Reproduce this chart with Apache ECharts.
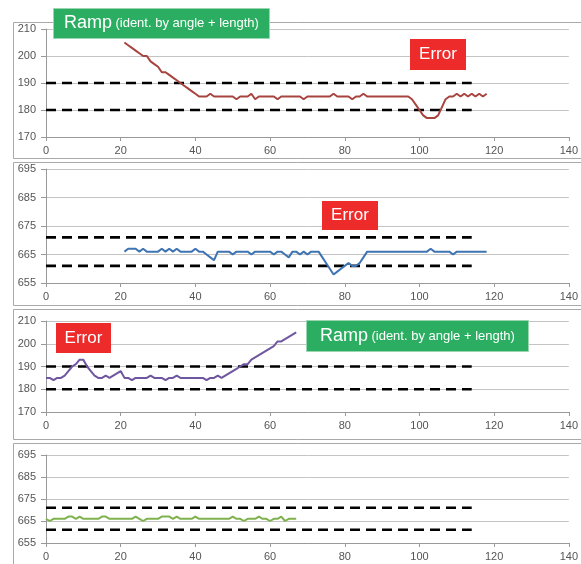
<!DOCTYPE html>
<html>
<head>
<meta charset="utf-8">
<style>
  html, body { margin: 0; padding: 0; background: #fff; }
  #chart { width: 581px; height: 564px; }
</style>
<script src="https://cdn.jsdelivr.net/npm/echarts@6/dist/echarts.min.js"></script>
</head>
<body>
<div id="chart"></div>
<script>
// x axis ticks shared by all four panels
const xTicks = [0, 20, 40, 60, 80, 100, 120, 140]

// panel 1 (red) starts at x = 21
const redStart = 21
const redVals = [205, 204, 203, 202, 201, 200, 200, 198, 197, 196, 194, 194, 193, 192, 191, 190, 189, 188, 187, 186,
  185, 185, 185, 186, 185, 185, 185, 185, 185, 185, 184, 185, 185, 185, 186, 184, 185, 185, 185, 185,
  185, 184, 185, 185, 185, 185, 185, 185, 184, 185, 185, 185, 185, 185, 185, 185, 186, 185, 185, 185,
  185, 184, 185, 185, 186, 185, 185, 185, 185, 185, 185, 185, 185, 185, 185, 185, 185, 184, 182, 180,
  178, 177, 177, 177, 178, 181, 184, 185, 185, 186, 185, 186, 185, 186, 185, 186, 185, 186]

// panel 2 (blue) starts at x = 21
const blueStart = 21
const blueVals = [666, 667, 667, 667, 666, 667, 666, 666, 666, 666, 667, 666, 667, 666, 667, 666, 666, 666, 666, 667,
  666, 666, 665, 664, 663, 666, 666, 666, 666, 665, 666, 666, 666, 666, 665, 666, 666, 666, 666, 666,
  665, 666, 666, 665, 664, 666, 666, 665, 666, 665, 666, 666, 666, 664, 662, 660, 658, 659, 660, 661,
  662, 661, 661, 662, 664, 666, 666, 666, 666, 666, 666, 666, 666, 666, 666, 666, 666, 666, 666, 666,
  666, 666, 667, 666, 666, 666, 666, 666, 665, 666, 666, 666, 666, 666, 666, 666, 666, 666]

// panel 3 (purple) starts at x = 0
const purpleStart = 0
const purpleVals = [185, 185, 184, 185, 185, 186, 188, 190, 191, 193, 193, 190, 188, 186, 185, 185, 186, 185, 186, 187,
  188, 185, 185, 184, 185, 185, 185, 185, 186, 185, 185, 185, 184, 185, 185, 186, 185, 185, 185, 185,
  185, 185, 185, 184, 185, 185, 186, 185, 186, 187, 188, 189, 190, 191, 191, 193, 194, 195, 196, 197,
  198, 199, 201, 201, 202, 203, 204, 205]

// panel 4 (green) starts at x = 0
const greenStart = 0
const greenVals = [666, 665, 666, 666, 666, 666, 667, 667, 666, 667, 666, 666, 666, 666, 666, 667, 667, 666, 666, 666,
  666, 666, 666, 666, 667, 666, 665, 666, 666, 666, 666, 667, 667, 667, 666, 667, 666, 666, 666, 666,
  667, 666, 666, 666, 666, 666, 666, 666, 666, 666, 667, 666, 666, 665, 666, 666, 666, 667, 666, 666,
  665, 666, 666, 667, 665, 666, 666, 666]

// tolerance bands (dashed lines) and their x span
const bandX = [0, 114]
const bandAngle = [180, 190]
const bandLength = [661, 671]

// y axis ranges
const yAngle = { min: 170, max: 210, interval: 10 }
const yLength = { min: 655, max: 695, interval: 10 }

const toPairs = (start, vals) => vals.map((v, i) => [start + i, v])
const bandLine = (v) => bandX.map(x => [x, v])

const chart = echarts.init(document.getElementById('chart'))

const grids = [
  { left: 46, right: 5, top: 29, height: 108 },
  { left: 46, right: 5, top: 169, height: 114 },
  { left: 46, right: 5, top: 321, height: 91 },
  { left: 46, right: 5, top: 455, height: 88 }
]

const axisFont = { fontFamily: 'Liberation Sans', fontSize: 11, color: '#555' }

const xAxes = grids.map((g, i) => ({
  type: 'value',
  gridIndex: i,
  min: xTicks[0],
  max: xTicks[xTicks.length - 1],
  interval: 20,
  axisLine: { lineStyle: { color: '#999' } },
  axisTick: { lineStyle: { color: '#999' }, length: 4 },
  axisLabel: Object.assign({ margin: 8 }, axisFont),
  splitLine: { show: false }
}))

const yAxes = grids.map((g, i) => {
  const r = i % 2 === 0 ? yAngle : yLength
  return {
    type: 'value',
    gridIndex: i,
    min: r.min,
    max: r.max,
    interval: r.interval,
    axisLine: { show: true, lineStyle: { color: '#999' } },
    axisTick: { show: true, lineStyle: { color: '#999' }, length: 5 },
    axisLabel: Object.assign({ margin: 10 }, axisFont),
    splitLine: { lineStyle: { color: '#c4c4c4' } }
  }
})

const dashed = (idx, v) => ({
  type: 'line',
  xAxisIndex: idx,
  yAxisIndex: idx,
  data: bandLine(v),
  symbol: 'none',
  silent: true,
  lineStyle: { color: '#000', width: 2.6, type: [10, 6] }
})

const mainLine = (idx, start, vals, color) => ({
  type: 'line',
  xAxisIndex: idx,
  yAxisIndex: idx,
  data: toPairs(start, vals),
  symbol: 'none',
  lineStyle: { color: color, width: 2 },
  z: 3
})

const series = [
  dashed(0, bandAngle[0]), dashed(0, bandAngle[1]),
  mainLine(0, redStart, redVals, '#a8443f'),
  dashed(1, bandLength[0]), dashed(1, bandLength[1]),
  mainLine(1, blueStart, blueVals, '#3f74b3'),
  dashed(2, bandAngle[0]), dashed(2, bandAngle[1]),
  mainLine(2, purpleStart, purpleVals, '#6f56a0'),
  dashed(3, bandLength[0]), dashed(3, bandLength[1]),
  mainLine(3, greenStart, greenVals, '#7fb24e')
]

// panel frames
const frames = [
  { y: 22, h: 136 },
  { y: 162, h: 143 },
  { y: 309, h: 130 },
  { y: 443, h: 130 }
].map(f => ({
  type: 'rect',
  shape: { x: 13.5, y: f.y + 0.5, width: 600, height: f.h },
  style: { fill: 'none', stroke: '#a9a9a9', lineWidth: 1 },
  z: 0
}))

// label boxes, drawn above grid lines and series
const rampBox = (x, y, w, h) => ({
  type: 'group',
  left: x,
  top: y,
  children: [
    { type: 'rect', z: 100, shape: { x: 0, y: 0, width: w, height: h }, style: { fill: '#2bae62', stroke: '#9ad7b0', lineWidth: 1 } },
    {
      type: 'text',
      z: 101,
      x: w / 2,
      y: h / 2,
      style: {
        text: '{a|Ramp} {b|(ident. by angle + length)}',
        align: 'center',
        verticalAlign: 'middle',
        rich: {
          a: { fontFamily: 'Liberation Sans', fontSize: 18, fill: '#fff' },
          b: { fontFamily: 'Liberation Sans', fontSize: 13, fill: '#fff' }
        }
      }
    }
  ]
})

const errorBox = (x, y, w, h) => ({
  type: 'group',
  left: x,
  top: y,
  children: [
    { type: 'rect', z: 100, shape: { x: 0, y: 0, width: w, height: h }, style: { fill: '#ed2b2b' } },
    {
      type: 'text',
      z: 101,
      x: w / 2,
      y: h / 2,
      style: {
        text: 'Error',
        align: 'center',
        verticalAlign: 'middle',
        fontFamily: 'Liberation Sans',
        fontSize: 17,
        fill: '#fff'
      }
    }
  ]
})

const option = {
  backgroundColor: '#fff',
  animation: false,
  grid: grids,
  xAxis: xAxes,
  yAxis: yAxes,
  series: series,
  graphic: {
    elements: frames.concat([
      rampBox(53, 8, 216, 30),
      errorBox(410, 39, 56, 31),
      errorBox(322, 201, 56, 29),
      errorBox(56, 323, 55, 30),
      rampBox(306, 320, 222, 31)
    ])
  }
}

chart.setOption(option)
</script>
</body>
</html>
